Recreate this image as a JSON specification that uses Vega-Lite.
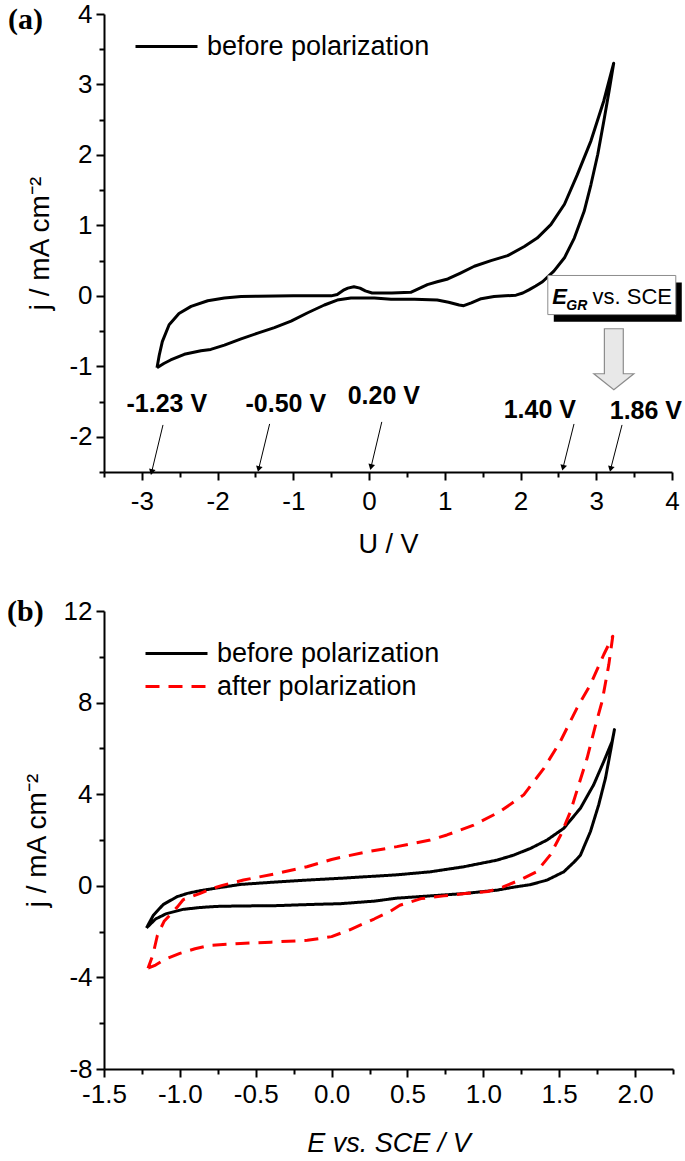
{
  "$schema": "https://vega.github.io/schema/vega-lite/v6.json",
  "background": "white",
  "padding": {"left": 7, "top": 1, "right": 2, "bottom": 0},
  "spacing": 40,
  "resolve": {"scale": {"color": "independent", "strokeDash": "independent"}},
  "config": {
    "view": {"stroke": null},
    "font": "Liberation Sans",
    "axis": {
      "domainColor": "black", "domainWidth": 2, "tickColor": "black", "tickWidth": 2,
      "labelColor": "black", "labelFont": "Liberation Sans", "labelFontSize": 26,
      "titleFont": "Liberation Sans", "titleFontSize": 27, "titleFontWeight": "normal", "titleColor": "black",
      "grid": false, "labelFlush": false, "labelOverlap": false
    },
    "axisY": {"titleFontSize": 28},
    "legend": {
      "padding": 0, "labelFont": "Liberation Sans", "labelFontSize": 27, "labelColor": "black", "labelLimit": 400,
      "symbolType": "stroke", "symbolStrokeWidth": 3, "symbolSize": 3844, "labelOffset": 8, "rowPadding": 2, "clipHeight": 31
    }
  },
  "datasets": {
    "cvA": [
      {"i": 0, "U": -2.80, "j": -1.02}, {"i": 1, "U": -2.71, "j": -0.96}, {"i": 2, "U": -2.62, "j": -0.91},
      {"i": 3, "U": -2.44, "j": -0.83}, {"i": 4, "U": -2.22, "j": -0.78}, {"i": 5, "U": -2.09, "j": -0.76},
      {"i": 6, "U": -1.91, "j": -0.70}, {"i": 7, "U": -1.69, "j": -0.61}, {"i": 8, "U": -1.47, "j": -0.53},
      {"i": 9, "U": -1.25, "j": -0.45}, {"i": 10, "U": -1.03, "j": -0.36}, {"i": 11, "U": -0.81, "j": -0.24},
      {"i": 12, "U": -0.59, "j": -0.13}, {"i": 13, "U": -0.42, "j": -0.06}, {"i": 14, "U": -0.24, "j": -0.03},
      {"i": 15, "U": 0.07, "j": -0.03}, {"i": 16, "U": 0.29, "j": -0.05}, {"i": 17, "U": 0.60, "j": -0.05},
      {"i": 18, "U": 0.90, "j": -0.06}, {"i": 19, "U": 1.05, "j": -0.09}, {"i": 20, "U": 1.19, "j": -0.13},
      {"i": 21, "U": 1.25, "j": -0.14}, {"i": 22, "U": 1.35, "j": -0.10}, {"i": 23, "U": 1.48, "j": -0.04},
      {"i": 24, "U": 1.65, "j": -0.01}, {"i": 25, "U": 1.80, "j": 0.00}, {"i": 26, "U": 1.94, "j": 0.01},
      {"i": 27, "U": 2.03, "j": 0.04}, {"i": 28, "U": 2.11, "j": 0.085}, {"i": 29, "U": 2.20, "j": 0.14},
      {"i": 30, "U": 2.29, "j": 0.20}, {"i": 31, "U": 2.44, "j": 0.35}, {"i": 32, "U": 2.58, "j": 0.54},
      {"i": 33, "U": 2.71, "j": 0.82}, {"i": 34, "U": 2.84, "j": 1.20}, {"i": 35, "U": 2.93, "j": 1.58},
      {"i": 36, "U": 3.02, "j": 2.01}, {"i": 37, "U": 3.10, "j": 2.48}, {"i": 38, "U": 3.17, "j": 2.91},
      {"i": 39, "U": 3.23, "j": 3.30}, {"i": 40, "U": 3.21, "j": 3.22}, {"i": 41, "U": 3.10, "j": 2.77},
      {"i": 42, "U": 2.93, "j": 2.20}, {"i": 43, "U": 2.75, "j": 1.72}, {"i": 44, "U": 2.58, "j": 1.30},
      {"i": 45, "U": 2.40, "j": 1.01}, {"i": 46, "U": 2.22, "j": 0.82}, {"i": 47, "U": 2.05, "j": 0.70},
      {"i": 48, "U": 1.83, "j": 0.57}, {"i": 49, "U": 1.61, "j": 0.50}, {"i": 50, "U": 1.39, "j": 0.42},
      {"i": 51, "U": 1.20, "j": 0.32}, {"i": 52, "U": 1.04, "j": 0.24}, {"i": 53, "U": 0.90, "j": 0.20},
      {"i": 54, "U": 0.77, "j": 0.16}, {"i": 55, "U": 0.65, "j": 0.10}, {"i": 56, "U": 0.55, "j": 0.05},
      {"i": 57, "U": 0.30, "j": 0.04}, {"i": 58, "U": 0.04, "j": 0.04}, {"i": 59, "U": -0.05, "j": 0.07},
      {"i": 60, "U": -0.12, "j": 0.11}, {"i": 61, "U": -0.20, "j": 0.13}, {"i": 62, "U": -0.28, "j": 0.11},
      {"i": 63, "U": -0.33, "j": 0.085}, {"i": 64, "U": -0.42, "j": 0.02}, {"i": 65, "U": -0.50, "j": 0.00},
      {"i": 66, "U": -1.00, "j": 0.00}, {"i": 67, "U": -1.47, "j": -0.005}, {"i": 68, "U": -1.69, "j": -0.01},
      {"i": 69, "U": -1.91, "j": -0.03}, {"i": 70, "U": -2.13, "j": -0.07}, {"i": 71, "U": -2.35, "j": -0.15},
      {"i": 72, "U": -2.51, "j": -0.25}, {"i": 73, "U": -2.64, "j": -0.41}, {"i": 74, "U": -2.73, "j": -0.65},
      {"i": 75, "U": -2.77, "j": -0.84}, {"i": 76, "U": -2.80, "j": -1.02}
    ],
    "arrows": [
      {"U1": -2.721, "j1": -1.832, "U2": -2.871, "j2": -2.501},
      {"U1": -1.313, "j1": -1.818, "U2": -1.458, "j2": -2.458},
      {"U1": 0.168, "j1": -1.789, "U2": 0.026, "j2": -2.43},
      {"U1": 2.706, "j1": -1.818, "U2": 2.561, "j2": -2.44},
      {"U1": 3.34, "j1": -1.832, "U2": 3.19, "j2": -2.458}
    ],
    "vlabels": [
      {"label": "-1.23 V", "U": -2.671, "j": -1.533},
      {"label": "-0.50 V", "U": -1.100, "j": -1.533},
      {"label": "0.20 V", "U": 0.195, "j": -1.419},
      {"label": "1.40 V", "U": 2.255, "j": -1.62},
      {"label": "1.86 V", "U": 3.655, "j": -1.633}
    ],
    "cvB": [
      {"series": "before polarization", "i": 0, "E": -1.22, "j": -1.84},
      {"series": "before polarization", "i": 1, "E": -1.16, "j": -1.45},
      {"series": "before polarization", "i": 2, "E": -1.09, "j": -1.22},
      {"series": "before polarization", "i": 3, "E": -0.98, "j": -1.03},
      {"series": "before polarization", "i": 4, "E": -0.87, "j": -0.95},
      {"series": "before polarization", "i": 5, "E": -0.76, "j": -0.90},
      {"series": "before polarization", "i": 6, "E": -0.60, "j": -0.88},
      {"series": "before polarization", "i": 7, "E": -0.38, "j": -0.87},
      {"series": "before polarization", "i": 8, "E": -0.16, "j": -0.82},
      {"series": "before polarization", "i": 9, "E": 0.06, "j": -0.78},
      {"series": "before polarization", "i": 10, "E": 0.28, "j": -0.67},
      {"series": "before polarization", "i": 11, "E": 0.43, "j": -0.54},
      {"series": "before polarization", "i": 12, "E": 0.65, "j": -0.44},
      {"series": "before polarization", "i": 13, "E": 0.87, "j": -0.34},
      {"series": "before polarization", "i": 14, "E": 1.09, "j": -0.19},
      {"series": "before polarization", "i": 15, "E": 1.20, "j": -0.06},
      {"series": "before polarization", "i": 16, "E": 1.31, "j": 0.05},
      {"series": "before polarization", "i": 17, "E": 1.42, "j": 0.25},
      {"series": "before polarization", "i": 18, "E": 1.53, "j": 0.61},
      {"series": "before polarization", "i": 19, "E": 1.60, "j": 1.05},
      {"series": "before polarization", "i": 20, "E": 1.64, "j": 1.34},
      {"series": "before polarization", "i": 21, "E": 1.706, "j": 2.37},
      {"series": "before polarization", "i": 22, "E": 1.76, "j": 3.53},
      {"series": "before polarization", "i": 23, "E": 1.805, "j": 4.70},
      {"series": "before polarization", "i": 24, "E": 1.838, "j": 5.87},
      {"series": "before polarization", "i": 25, "E": 1.864, "j": 6.82},
      {"series": "before polarization", "i": 26, "E": 1.849, "j": 6.31},
      {"series": "before polarization", "i": 27, "E": 1.794, "j": 5.43},
      {"series": "before polarization", "i": 28, "E": 1.727, "j": 4.41},
      {"series": "before polarization", "i": 29, "E": 1.64, "j": 3.39},
      {"series": "before polarization", "i": 30, "E": 1.53, "j": 2.51},
      {"series": "before polarization", "i": 31, "E": 1.42, "j": 2.00},
      {"series": "before polarization", "i": 32, "E": 1.31, "j": 1.63},
      {"series": "before polarization", "i": 33, "E": 1.20, "j": 1.34},
      {"series": "before polarization", "i": 34, "E": 1.09, "j": 1.12},
      {"series": "before polarization", "i": 35, "E": 0.87, "j": 0.83},
      {"series": "before polarization", "i": 36, "E": 0.65, "j": 0.61},
      {"series": "before polarization", "i": 37, "E": 0.43, "j": 0.48},
      {"series": "before polarization", "i": 38, "E": 0.21, "j": 0.39},
      {"series": "before polarization", "i": 39, "E": 0.06, "j": 0.33},
      {"series": "before polarization", "i": 40, "E": -0.16, "j": 0.25},
      {"series": "before polarization", "i": 41, "E": -0.38, "j": 0.16},
      {"series": "before polarization", "i": 42, "E": -0.60, "j": 0.06},
      {"series": "before polarization", "i": 43, "E": -0.76, "j": -0.10},
      {"series": "before polarization", "i": 44, "E": -0.87, "j": -0.22},
      {"series": "before polarization", "i": 45, "E": -0.95, "j": -0.33},
      {"series": "before polarization", "i": 46, "E": -1.02, "j": -0.48},
      {"series": "before polarization", "i": 47, "E": -1.11, "j": -0.82},
      {"series": "before polarization", "i": 48, "E": -1.175, "j": -1.29},
      {"series": "before polarization", "i": 49, "E": -1.22, "j": -1.84},
      {"series": "after polarization", "i": 0, "E": -1.21, "j": -3.60},
      {"series": "after polarization", "i": 1, "E": -1.16, "j": -3.46},
      {"series": "after polarization", "i": 2, "E": -1.10, "j": -3.22},
      {"series": "after polarization", "i": 3, "E": -1.00, "j": -2.95},
      {"series": "after polarization", "i": 4, "E": -0.90, "j": -2.75},
      {"series": "after polarization", "i": 5, "E": -0.80, "j": -2.60},
      {"series": "after polarization", "i": 6, "E": -0.60, "j": -2.52},
      {"series": "after polarization", "i": 7, "E": -0.40, "j": -2.46},
      {"series": "after polarization", "i": 8, "E": -0.16, "j": -2.38},
      {"series": "after polarization", "i": 9, "E": 0.00, "j": -2.22},
      {"series": "after polarization", "i": 10, "E": 0.12, "j": -1.92},
      {"series": "after polarization", "i": 11, "E": 0.28, "j": -1.45},
      {"series": "after polarization", "i": 12, "E": 0.39, "j": -1.10},
      {"series": "after polarization", "i": 13, "E": 0.45, "j": -0.85},
      {"series": "after polarization", "i": 14, "E": 0.59, "j": -0.56},
      {"series": "after polarization", "i": 15, "E": 0.74, "j": -0.44},
      {"series": "after polarization", "i": 16, "E": 0.88, "j": -0.34},
      {"series": "after polarization", "i": 17, "E": 1.03, "j": -0.25},
      {"series": "after polarization", "i": 18, "E": 1.13, "j": -0.05},
      {"series": "after polarization", "i": 19, "E": 1.24, "j": 0.25},
      {"series": "after polarization", "i": 20, "E": 1.35, "j": 0.61},
      {"series": "after polarization", "i": 21, "E": 1.44, "j": 1.34},
      {"series": "after polarization", "i": 22, "E": 1.51, "j": 2.22},
      {"series": "after polarization", "i": 23, "E": 1.574, "j": 3.24},
      {"series": "after polarization", "i": 24, "E": 1.629, "j": 4.41},
      {"series": "after polarization", "i": 25, "E": 1.684, "j": 5.58},
      {"series": "after polarization", "i": 26, "E": 1.74, "j": 7.03},
      {"series": "after polarization", "i": 27, "E": 1.783, "j": 8.06},
      {"series": "after polarization", "i": 28, "E": 1.827, "j": 9.66},
      {"series": "after polarization", "i": 29, "E": 1.853, "j": 10.9},
      {"series": "after polarization", "i": 30, "E": 1.794, "j": 10.1},
      {"series": "after polarization", "i": 31, "E": 1.706, "j": 8.79},
      {"series": "after polarization", "i": 32, "E": 1.618, "j": 7.77},
      {"series": "after polarization", "i": 33, "E": 1.508, "j": 6.31},
      {"series": "after polarization", "i": 34, "E": 1.40, "j": 5.14},
      {"series": "after polarization", "i": 35, "E": 1.266, "j": 3.97},
      {"series": "after polarization", "i": 36, "E": 1.11, "j": 3.24},
      {"series": "after polarization", "i": 37, "E": 0.936, "j": 2.65},
      {"series": "after polarization", "i": 38, "E": 0.76, "j": 2.22},
      {"series": "after polarization", "i": 39, "E": 0.65, "j": 2.00},
      {"series": "after polarization", "i": 40, "E": 0.43, "j": 1.71},
      {"series": "after polarization", "i": 41, "E": 0.23, "j": 1.48},
      {"series": "after polarization", "i": 42, "E": 0.08, "j": 1.27},
      {"series": "after polarization", "i": 43, "E": 0.00, "j": 1.15},
      {"series": "after polarization", "i": 44, "E": -0.163, "j": 0.83},
      {"series": "after polarization", "i": 45, "E": -0.361, "j": 0.54},
      {"series": "after polarization", "i": 46, "E": -0.581, "j": 0.25},
      {"series": "after polarization", "i": 47, "E": -0.72, "j": 0.02},
      {"series": "after polarization", "i": 48, "E": -0.80, "j": -0.15},
      {"series": "after polarization", "i": 49, "E": -0.87, "j": -0.34},
      {"series": "after polarization", "i": 50, "E": -0.977, "j": -0.60},
      {"series": "after polarization", "i": 51, "E": -1.016, "j": -0.92},
      {"series": "after polarization", "i": 52, "E": -1.104, "j": -1.55},
      {"series": "after polarization", "i": 53, "E": -1.148, "j": -2.16},
      {"series": "after polarization", "i": 54, "E": -1.177, "j": -3.00},
      {"series": "after polarization", "i": 55, "E": -1.21, "j": -3.60}
    ]
  },
  "vconcat": [
    {
      "width": 568,
      "height": 458,
      "resolve": {"axis": {"x": "independent", "y": "independent"}},
      "layer": [
        {
          "data": {"name": "cvA"},
          "transform": [{"calculate": "'before polarization'", "as": "series"}],
          "mark": {"type": "line", "strokeWidth": 3, "strokeJoin": "round"},
          "encoding": {
            "x": {
              "field": "U", "type": "quantitative",
              "scale": {"domain": [-3.5, 4], "nice": false, "zero": false},
              "axis": {
                "title": "U / V",
                "values": [-3.5, -3, -2.5, -2, -1.5, -1, -0.5, 0, 0.5, 1, 1.5, 2, 2.5, 3, 3.5, 4],
                "labelExpr": "datum.value % 1 === 0 ? replace(format(datum.value, '.0f'), '\u2212', '-') : ''",
                "tickSize": {"condition": {"test": "datum.value % 1 === 0", "value": 8}, "value": 5},
                "labelPadding": 8,
                "titlePadding": 17
              }
            },
            "y": {
              "field": "j", "type": "quantitative",
              "scale": {"domain": [-2.5, 4], "nice": false, "zero": false},
              "axis": {
                "title": "j / mA cm\u207b\u00b2",
                "values": [-2.5, -2, -1.5, -1, -0.5, 0, 0.5, 1, 1.5, 2, 2.5, 3, 3.5, 4],
                "labelExpr": "datum.value % 1 === 0 ? replace(format(datum.value, '.0f'), '\u2212', '-') : ''",
                "tickSize": {"condition": {"test": "datum.value % 1 === 0", "value": 8}, "value": 5},
                "labelPadding": 4,
                "titlePadding": 14
              }
            },
            "order": {"field": "i"},
            "color": {
              "field": "series", "type": "nominal",
              "scale": {"domain": ["before polarization"], "range": ["black"]},
              "legend": {"title": null, "orient": "none", "legendX": 30, "legendY": 17}
            }
          }
        },
        {
          "data": {"name": "arrows"},
          "mark": {"type": "rule", "strokeWidth": 1, "color": "black"},
          "encoding": {
            "x": {"field": "U1", "type": "quantitative", "axis": null},
            "y": {"field": "j1", "type": "quantitative", "axis": null},
            "x2": {"field": "U2"},
            "y2": {"field": "j2"}
          }
        },
        {
          "data": {"name": "arrows"},
          "mark": {"type": "point", "shape": "triangle-down", "filled": true, "size": 45, "angle": 14, "color": "black", "opacity": 1, "dy": -3, "dx": 1},
          "encoding": {
            "x": {"field": "U2", "type": "quantitative", "axis": null},
            "y": {"field": "j2", "type": "quantitative", "axis": null}
          }
        },
        {
          "data": {"name": "vlabels"},
          "mark": {"type": "text", "font": "Liberation Sans", "fontWeight": "bold", "fontSize": 25, "color": "black", "baseline": "middle", "align": "center"},
          "encoding": {
            "x": {"field": "U", "type": "quantitative", "axis": null},
            "y": {"field": "j", "type": "quantitative", "axis": null},
            "text": {"field": "label"}
          }
        },
        {
          "data": {"values": [{}]},
          "mark": {"type": "rect", "color": "black", "opacity": 1},
          "encoding": {
            "x": {"datum": 2.439, "axis": null}, "x2": {"datum": 4.129},
            "y": {"datum": 0.189, "axis": null}, "y2": {"datum": -0.366}
          }
        },
        {
          "data": {"values": [{}]},
          "mark": {"type": "rect", "fill": "white", "stroke": "#8c8c8c", "strokeWidth": 1, "opacity": 1},
          "encoding": {
            "x": {"datum": 2.36, "axis": null}, "x2": {"datum": 4.05},
            "y": {"datum": 0.289, "axis": null}, "y2": {"datum": -0.266}
          }
        },
        {
          "data": {"values": [{}]},
          "mark": {"type": "text", "font": "Liberation Sans", "fontWeight": "bold", "fontStyle": "italic", "fontSize": 22, "align": "left", "baseline": "alphabetic", "color": "black"},
          "encoding": {"x": {"datum": 2.42, "axis": null}, "y": {"datum": -0.11, "axis": null}, "text": {"value": "E"}}
        },
        {
          "data": {"values": [{}]},
          "mark": {"type": "text", "font": "Liberation Sans", "fontWeight": "bold", "fontStyle": "italic", "fontSize": 14, "align": "left", "baseline": "alphabetic", "color": "black"},
          "encoding": {"x": {"datum": 2.605, "axis": null}, "y": {"datum": -0.196, "axis": null}, "text": {"value": "GR"}}
        },
        {
          "data": {"values": [{}]},
          "mark": {"type": "text", "font": "Liberation Sans", "fontSize": 22, "align": "left", "baseline": "alphabetic", "color": "black"},
          "encoding": {"x": {"datum": 2.95, "axis": null}, "y": {"datum": -0.11, "axis": null}, "text": {"value": "vs. SCE"}}
        },
        {
          "data": {"values": [{}]},
          "mark": {"type": "point", "shape": "M-0.31,-1L0.31,-1L0.31,0.475L0.656,0.475L0,1L-0.656,0.475L-0.31,0.475Z", "size": 3721, "filled": true, "fill": "#e8e8e8", "stroke": "#8c8c8c", "strokeWidth": 1.2, "opacity": 1},
          "encoding": {"x": {"datum": 3.232, "axis": null}, "y": {"datum": -0.9, "axis": null}}
        },
        {
          "data": {"values": [{}]},
          "mark": {"type": "text", "font": "Liberation Serif", "fontWeight": "bold", "fontSize": 30, "align": "left", "baseline": "alphabetic", "color": "black", "dx": -96, "dy": 15},
          "encoding": {"x": {"datum": -3.5, "axis": null}, "y": {"datum": 4, "axis": null}, "text": {"value": "(a)"}}
        }
      ]
    },
    {
      "width": 569,
      "height": 458,
      "resolve": {"axis": {"x": "independent", "y": "independent"}},
      "layer": [
        {
          "data": {"name": "cvB"},
          "mark": {"type": "line", "strokeWidth": 3, "strokeJoin": "round"},
          "encoding": {
            "x": {
              "field": "E", "type": "quantitative",
              "scale": {"domain": [-1.5, 2.25], "nice": false, "zero": false},
              "axis": {
                "title": "E vs. SCE / V",
                "titleFontStyle": "italic",
                "values": [-1.5, -1.25, -1, -0.75, -0.5, -0.25, 0, 0.25, 0.5, 0.75, 1, 1.25, 1.5, 1.75, 2, 2.25],
                "labelExpr": "(datum.value * 2) % 1 === 0 ? replace(format(datum.value, '.1f'), '\u2212', '-') : ''",
                "tickSize": {"condition": {"test": "(datum.value * 2) % 1 === 0", "value": 8}, "value": 5},
                "labelPadding": 4,
                "titlePadding": 23
              }
            },
            "y": {
              "field": "j", "type": "quantitative",
              "scale": {"domain": [-8, 12], "nice": false, "zero": false},
              "axis": {
                "title": "j / mA cm\u207b\u00b2",
                "values": [-8, -6, -4, -2, 0, 2, 4, 6, 8, 10, 12],
                "labelExpr": "datum.value % 4 === 0 ? replace(datum.label, '\u2212', '-') : ''",
                "tickSize": {"condition": {"test": "datum.value % 4 === 0", "value": 8}, "value": 5},
                "labelPadding": 4,
                "titlePadding": 12
              }
            },
            "order": {"field": "i"},
            "color": {
              "field": "series", "type": "nominal",
              "scale": {"domain": ["before polarization", "after polarization"], "range": ["black", "#ff0000"]},
              "legend": {"title": null, "orient": "none", "legendX": 40, "legendY": 27}
            },
            "strokeDash": {
              "field": "series", "type": "nominal",
              "scale": {"domain": ["before polarization", "after polarization"], "range": [[1, 0], [14, 9]]},
              "legend": {"title": null, "orient": "none", "legendX": 40, "legendY": 27}
            }
          }
        },
        {
          "data": {"values": [{}]},
          "mark": {"type": "text", "font": "Liberation Serif", "fontWeight": "bold", "fontSize": 30, "align": "left", "baseline": "alphabetic", "color": "black", "dx": -97, "dy": 10},
          "encoding": {"x": {"datum": -1.5, "axis": null}, "y": {"datum": 12, "axis": null}, "text": {"value": "(b)"}}
        }
      ]
    }
  ]
}
